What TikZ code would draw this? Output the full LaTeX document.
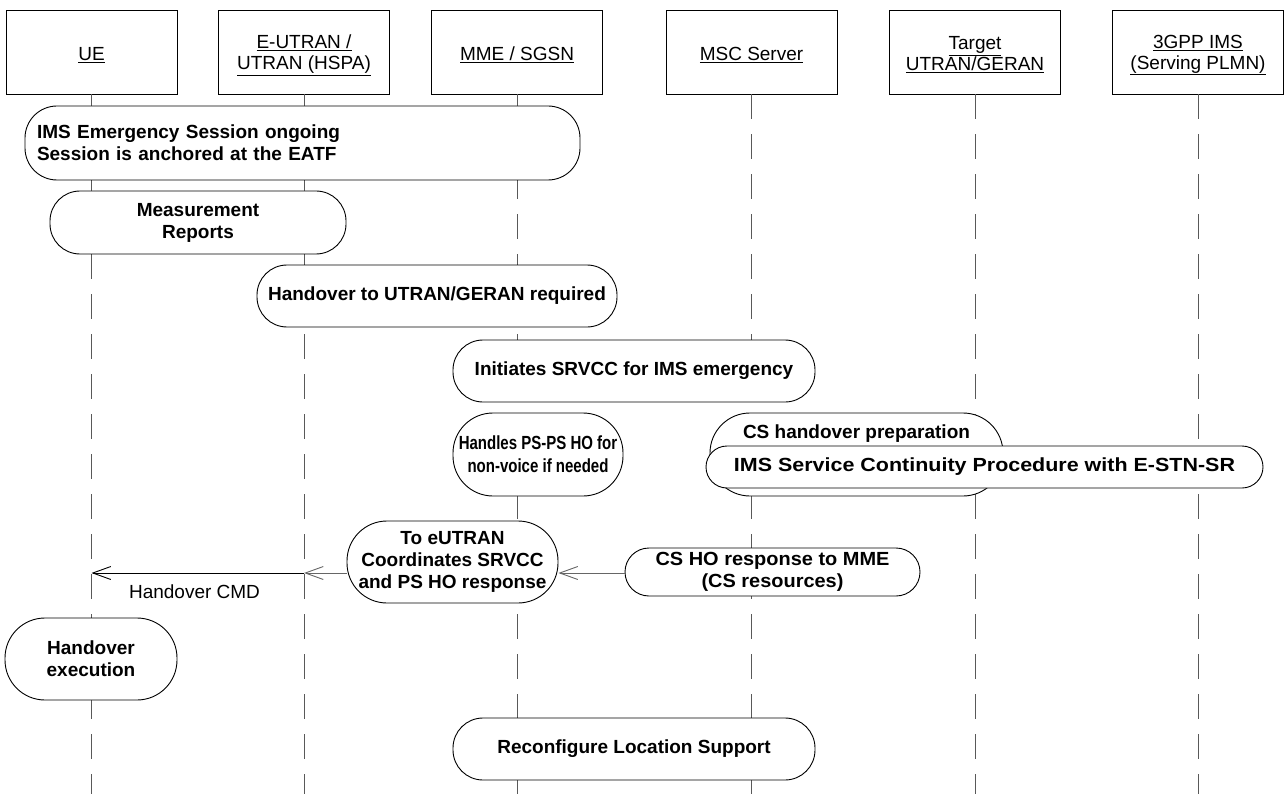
\documentclass[tikz,border=0pt]{standalone}
\usepackage{fontspec}
\setmainfont{Liberation Sans}
\usetikzlibrary{arrows.meta}
\begin{document}
\begin{tikzpicture}[x=1pt,y=-1pt,
  every node/.style={font=\fontsize{19}{22}\selectfont},
  head/.style={draw, line width=0.9pt, minimum width=171pt, minimum height=84pt, inner sep=0pt},
  htxt/.style={align=center, inner sep=0pt, font=\fontsize{19}{21}\selectfont},
  act/.style={draw, line width=0.9pt, fill=white, align=center, inner sep=0pt, font=\fontsize{19}{22}\selectfont\bfseries},
  life/.style={draw=black!65, line width=0.9pt, dash pattern=on 25pt off 15pt},
  msg/.style={line width=0.9pt, -{Straight Barb[length=18pt,width=13pt]}},
]
\useasboundingbox (0,0) rectangle (1284,794);
% headers
\node[head] (ue)     at (91.5,52) {};
\node[head] (eutran) at (304,52)  {};
\node[head] (mme)    at (517,52)  {};
\node[head] (msc)    at (751.5,52){};
\node[head] (target) at (975,52)  {};
\node[head] (ims)    at (1198,52) {};
\node[htxt] (uet)     at (91.5,55) {\underline{UE}};
\node[htxt] (eutrant) at (304,55)  {\underline{E-UTRAN /}\\\underline{UTRAN (HSPA)}};
\node[htxt] (mmet)    at (517,55)  {\underline{MME / SGSN}};
\node[htxt] (msct)    at (751.5,55){\underline{MSC Server}};
\node[htxt] (targett) at (975,55)  {\underline{Target}\\\underline{UTRAN/GERAN}};
\node[htxt] (imst)    at (1198,55) {\underline{3GPP IMS}\\\underline{(Serving PLMN)}};
% lifelines
\coordinate (bot) at (0,794);
\foreach \n in {ue,eutran,mme,msc,target,ims}{
  \draw[life] (\n.south) -- (\n.south |- bot);
}
% activity boxes
\node[act, minimum width=555pt, minimum height=74pt, rounded corners=32pt, text width=531pt, align=left] (session) at (302.5,143)
  {IMS Emergency Session ongoing\\Session is anchored at the EATF};
\node[act, minimum width=296pt, minimum height=63pt, rounded corners=30pt] (meas) at (198,222.5) {Measurement\\Reports};
\node[act, minimum width=360pt, minimum height=62pt, rounded corners=30pt] (horeq) at (437,296) {Handover to UTRAN/GERAN required};
\node[act, minimum width=362pt, minimum height=62pt, rounded corners=30pt] (init) at (634,371) {Initiates SRVCC for IMS emergency};
\node[act, minimum width=170pt, minimum height=83pt, rounded corners=40pt, font=\fontsize{19}{23}\selectfont\bfseries] (handles) at (538,454.5)
  {\scalebox{0.79}[1]{Handles PS-PS HO for}\\\scalebox{0.79}[1]{non-voice if needed}};
\node[act, minimum width=293pt, minimum height=83pt, rounded corners=40pt] (csprep) at (856.5,454.5) {};
\node[font=\fontsize{19}{22}\selectfont\bfseries, inner sep=0pt] (csprept) at (856.5,434) {CS handover preparation};
\node[act, minimum width=557pt, minimum height=42pt, rounded corners=21pt] (isc) at (984.5,467)
  {\scalebox{1.13}[1]{IMS Service Continuity Procedure with E-STN-SR}};
\node[act, minimum width=211pt, minimum height=82pt, rounded corners=40pt] (toe) at (452.5,562) {To eUTRAN\\Coordinates SRVCC\\and PS HO response};
\node[act, minimum width=295pt, minimum height=48pt, rounded corners=24pt] (csho) at (772.5,572)
  {\scalebox{1.05}[1]{CS HO response to MME}\\\scalebox{1.05}[1]{(CS resources)}};
\node[act, minimum width=172pt, minimum height=82pt, rounded corners=40pt] (hoexec) at (91,659) {Handover\\execution};
\node[act, minimum width=362pt, minimum height=62pt, rounded corners=30pt] (reconf) at (634,749) {Reconfigure Location Support};
% messages
\coordinate (yarr) at (0,573);
\coordinate (cmdE) at (eutran |- yarr);
\coordinate (cmdU) at (ue |- yarr);
\draw[msg, draw=black!60] (csho.west |- yarr) -- (toe.east |- yarr);
\draw[msg, draw=black!60] (toe.west |- yarr) -- (cmdE);
\draw[msg] (cmdE) -- (cmdU);
\node[inner sep=0pt] (cmdlabel) at (194.5,592) {Handover CMD};
\end{tikzpicture}
\end{document}
